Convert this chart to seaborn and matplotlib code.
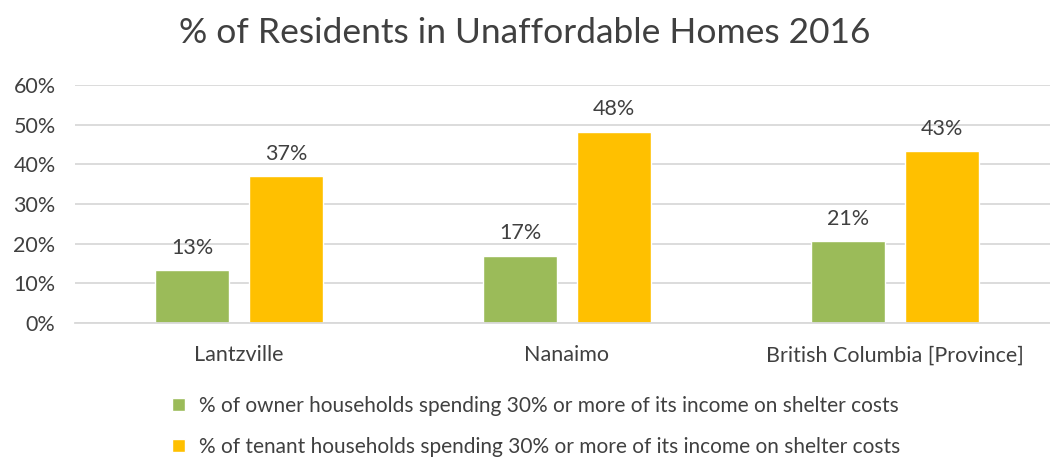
import matplotlib
matplotlib.use("Agg")
import matplotlib.pyplot as plt
import seaborn as sns
import pandas as pd
from matplotlib.ticker import PercentFormatter

categories = ["Lantzville", "Nanaimo", "British Columbia [Province]"]
owner_values = [0.133, 0.170, 0.206]
tenant_values = [0.370, 0.482, 0.433]
series_names = [
    "% of owner households spending 30% or more of its income on shelter costs",
    "% of tenant households spending 30% or more of its income on shelter costs",
]
y_ticks = [0, 0.1, 0.2, 0.3, 0.4, 0.5, 0.6]
title = "% of Residents in Unaffordable Homes 2016"

df = pd.DataFrame({
    "category": categories * 2,
    "value": owner_values + tenant_values,
    "series": [series_names[0]] * 3 + [series_names[1]] * 3,
})

sns.set_theme(style="white")
plt.rcParams["font.family"] = ["Lato", "DejaVu Sans"]
text_color = "#404040"

W, H = 1050, 458
fig = plt.figure(figsize=(W / 100, H / 100), dpi=100)
left, right = 75, 1059
top, bottom = 85, 323
ax = fig.add_axes([left / W, 1 - bottom / H, (right - left) / W, (bottom - top) / H])

sns.barplot(data=df, x="category", y="value", hue="series", order=categories,
            hue_order=series_names, palette=["#9BBB59", "#FFC000"],
            width=0.573, gap=0.213, ax=ax, legend=True, saturation=1)

ax.set_ylim(0, 0.6)
ax.set_xlim(-0.5, 2.5)
ax.set_yticks(y_ticks)
ax.yaxis.set_major_formatter(PercentFormatter(1.0, decimals=0))
ax.grid(axis="y", color="#D9D9D9", linewidth=1.3)
ax.set_axisbelow(True)
for s in ["top", "right", "left"]:
    ax.spines[s].set_visible(False)
ax.spines["bottom"].set_color("#D9D9D9")
ax.spines["bottom"].set_linewidth(1.3)
ax.set_xlabel("")
ax.set_ylabel("")
ax.tick_params(axis="both", length=0, labelsize=15.5, colors=text_color)
ax.tick_params(axis="x", pad=16)
ax.tick_params(axis="y", pad=14)

for cont in ax.containers:
    ax.bar_label(cont, fmt=lambda v: f"{v*100:.0f}%", padding=9,
                 fontsize=15.5, color=text_color)

fig.text(0.5, 1 - 33 / H, title, ha="center", va="center", fontsize=25.5, color=text_color)

handles, labels = ax.get_legend_handles_labels()
ax.get_legend().remove()
fig.legend(handles, labels, loc="upper left", bbox_to_anchor=(172 / W, 1 - 396 / H),
           frameon=False, fontsize=15, labelcolor=text_color,
           handlelength=0.6, handleheight=0.6, handletextpad=0.7,
           labelspacing=1.0, borderaxespad=0, borderpad=0)

fig.savefig("out.png", dpi=100)
